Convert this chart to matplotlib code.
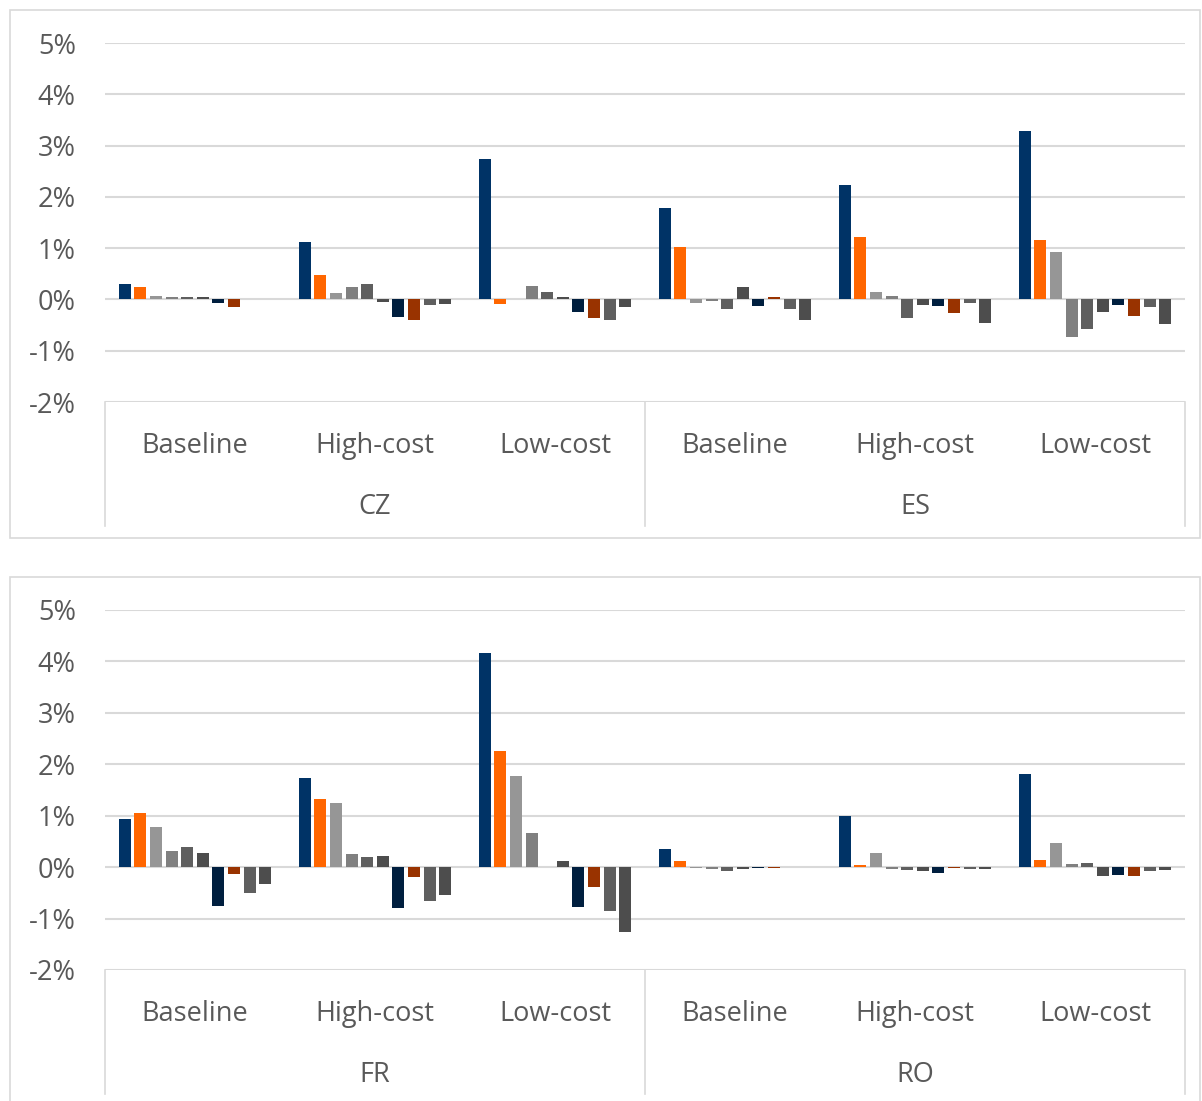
import matplotlib.pyplot as plt
import numpy as np
from matplotlib.patches import Rectangle
from matplotlib.lines import Line2D

plt.rcParams['font.family'] = ['Open Sans', 'DejaVu Sans']
plt.rcParams['axes.unicode_minus'] = False

scenarios = ['Baseline', 'High-cost', 'Low-cost']
top_countries = ['CZ', 'ES']
bottom_countries = ['FR', 'RO']

# ten series per scenario, values in %
colors = ['#003366', '#FF6600', '#969696', '#808080', '#5F5F5F',
          '#4D4D4D', '#001F3F', '#993300', '#5F5F5F', '#4D4D4D']

cz = [[0.31, 0.24, 0.07, 0.04, 0.05, 0.05, -0.07, -0.15, 0.0, 0.0],
      [1.12, 0.48, 0.12, 0.24, 0.30, -0.05, -0.34, -0.40, -0.10, -0.08],
      [2.74, -0.08, 0.0, 0.26, 0.14, 0.04, -0.25, -0.36, -0.41, -0.15]]
es = [[1.79, 1.03, -0.06, -0.03, -0.19, 0.25, -0.12, 0.04, -0.19, -0.41],
      [2.23, 1.22, 0.15, 0.06, -0.36, -0.10, -0.12, -0.27, -0.06, -0.46],
      [3.29, 1.16, 0.92, -0.74, -0.57, -0.25, -0.10, -0.32, -0.14, -0.47]]
fr = [[0.94, 1.06, 0.79, 0.32, 0.39, 0.28, -0.75, -0.14, -0.51, -0.33],
      [1.74, 1.32, 1.25, 0.25, 0.19, 0.22, -0.79, -0.19, -0.66, -0.55],
      [4.17, 2.26, 1.77, 0.67, 0.0, 0.11, -0.77, -0.38, -0.85, -1.27]]
ro = [[0.35, 0.11, -0.01, -0.04, -0.08, -0.04, -0.01, -0.01, 0.0, 0.0],
      [1.00, 0.05, 0.28, -0.04, -0.05, -0.07, -0.11, -0.02, -0.04, -0.04],
      [1.82, 0.14, 0.46, 0.06, 0.08, -0.18, -0.15, -0.18, -0.08, -0.05]]

W, H = 1202, 1101
fig = plt.figure(figsize=(W / 100, H / 100), dpi=100)

text_color = '#595959'
grid_color = '#D9D9D9'
fs = 19.5


def px_axes(left, top, right, bottom):
    return fig.add_axes([left / W, 1 - bottom / H, (right - left) / W, (bottom - top) / H])


def draw_panel(box_top, box_bottom, ax_top, ax_bottom, countries, groups):
    # outer chart frame
    fig.patches.append(Rectangle((10 / W, 1 - box_bottom / H), 1190 / W, (box_bottom - box_top) / H,
                                 transform=fig.transFigure, fill=False,
                                 edgecolor=grid_color, linewidth=1.2))
    ax = px_axes(105, ax_top, 1185, ax_bottom)
    n = len(colors)
    slot = 15.6 / 180
    width = 12.0 / 180
    for g, vals in enumerate(groups):
        centers = g + 0.5 + (np.arange(n) - (n - 1) / 2) * slot
        ax.bar(centers, vals, width=width, color=colors, zorder=3)
    ax.set_xlim(0, 6)
    ax.set_ylim(-2, 5)
    ax.set_yticks(np.arange(-2, 6))
    ax.set_yticklabels(['%d%%' % v for v in range(-2, 6)])
    ax.yaxis.grid(True, color=grid_color, linewidth=1.5, zorder=0)
    ax.set_xticks([])
    ax.tick_params(axis='y', length=0, pad=21, labelsize=fs, labelcolor=text_color)
    for s in ax.spines.values():
        s.set_visible(False)

    # two-level category axis
    px = ax_bottom
    for i in range(6):
        name = scenarios[i % 3]
        fig.text((105 + 180 * i + 90) / W, 1 - (px + 44) / H, name, ha='center', va='center',
                 fontsize=fs, color=text_color)
    for j, c in enumerate(countries):
        fig.text((105 + 540 * j + 270) / W, 1 - (px + 105) / H, c, ha='center', va='center',
                 fontsize=fs, color=text_color)
    for x in [105, 645, 1185]:
        fig.lines.append(Line2D([x / W, x / W], [1 - px / H, 1 - (px + 124) / H],
                                transform=fig.transFigure, color=grid_color, linewidth=1.2))
    return ax


draw_panel(10, 538, 43, 402, top_countries, cz + es)
draw_panel(577, 1130, 610, 970, bottom_countries, fr + ro)

fig.savefig('out.png', dpi=100)
plt.close(fig)
